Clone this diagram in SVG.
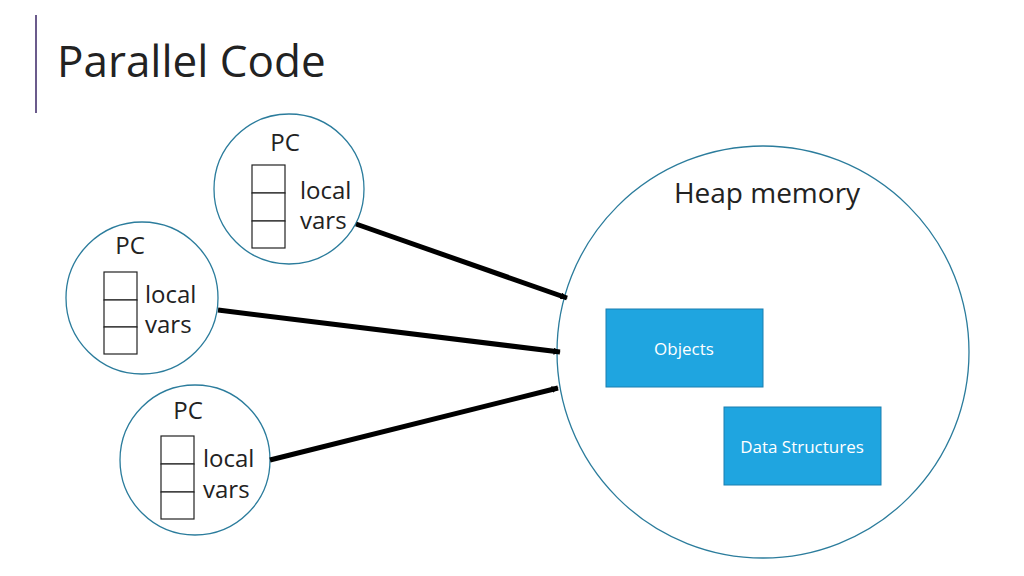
<svg xmlns="http://www.w3.org/2000/svg" width="1024" height="576" viewBox="0 0 1024 576">
<style>
text{font-family:"Open Sans","Liberation Sans",sans-serif;fill:#222}
.c{fill:#fff;stroke:#2b7c9c;stroke-width:1.3}
.cell{fill:#fff;stroke:#222;stroke-width:1.2}
.lbl{font-size:24px}
.box{fill:#1fa5e0;stroke:#1a7fb0;stroke-width:1}
.bt{font-size:17px;fill:#fff;text-anchor:middle}
.ar{stroke:#000;stroke-width:5;marker-end:url(#a)}
</style>
<defs><marker id="a" viewBox="0 0 10 10" refX="9" refY="5" markerWidth="7" markerHeight="7" markerUnits="userSpaceOnUse" orient="auto"><path d="M0,0L10,5L0,10z" fill="#000" transform="scale(1)"/></marker></defs>
<rect width="1024" height="576" fill="#fff"/>
<line x1="36" y1="15" x2="36" y2="113" stroke="#6b5b8c" stroke-width="2"/>
<text x="57" y="77" font-size="44">Parallel Code</text>
<g id="heap"><circle class="c" cx="763" cy="352" r="206"/><text x="767" y="203" font-size="28" text-anchor="middle">Heap memory</text></g>
<g id="objects"><rect class="box" x="606" y="309" width="157" height="78"/><text class="bt" x="684" y="355">Objects</text></g>
<g id="datastructures"><rect class="box" x="724" y="407" width="157" height="78"/><text class="bt" x="802" y="453">Data Structures</text></g>
<g id="thread1"><circle class="c" cx="289" cy="189" r="75"/><text class="lbl" x="285" y="151" text-anchor="middle">PC</text>
<rect class="cell" x="252" y="165" width="33" height="28"/><rect class="cell" x="252" y="193" width="33" height="28"/><rect class="cell" x="252" y="221" width="33" height="27"/>
<text class="lbl" x="300" y="199">local</text><text class="lbl" x="300" y="229">vars</text></g>
<g id="thread2"><circle class="c" cx="142" cy="298" r="76"/><text class="lbl" x="130" y="254" text-anchor="middle">PC</text>
<rect class="cell" x="104" y="272" width="33" height="28"/><rect class="cell" x="104" y="300" width="33" height="27"/><rect class="cell" x="104" y="327" width="33" height="27"/>
<text class="lbl" x="145" y="303">local</text><text class="lbl" x="145" y="333">vars</text></g>
<g id="thread3"><circle class="c" cx="195" cy="460" r="75"/><text class="lbl" x="188" y="419" text-anchor="middle">PC</text>
<rect class="cell" x="161" y="436" width="33" height="28"/><rect class="cell" x="161" y="464" width="33" height="28"/><rect class="cell" x="161" y="492" width="33" height="27"/>
<text class="lbl" x="203" y="467">local</text><text class="lbl" x="203" y="498">vars</text></g>
<g id="connectors">
<line class="ar" x1="356" y1="224" x2="567" y2="298"/>
<line class="ar" x1="218" y1="310" x2="560" y2="352"/>
<line class="ar" x1="270" y1="460" x2="558" y2="388"/>
</g>
</svg>
